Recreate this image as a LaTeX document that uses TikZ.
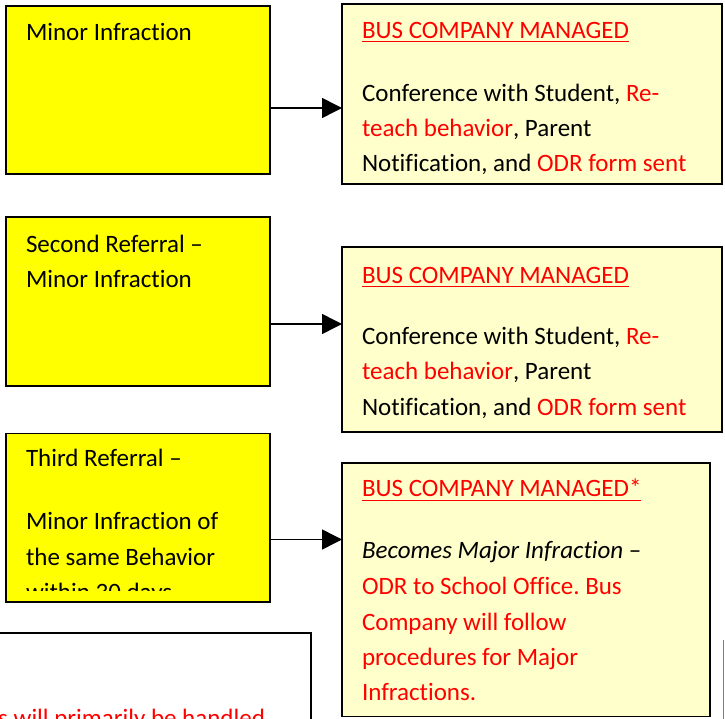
\documentclass[tikz,border=0pt]{standalone}
\usepackage{fontspec}
\setmainfont[Ligatures={NoCommon}]{Carlito}
\usetikzlibrary{arrows.meta}
\definecolor{boxyellow}{HTML}{FFFF00}
\definecolor{paleyellow}{HTML}{FFFFCC}
\definecolor{txtred}{HTML}{FF0000}
\frenchspacing
\begin{document}
\begin{tikzpicture}[x=1pt,y=-1pt,
  ybox/.style={draw=black, line width=1.5pt, fill=boxyellow, anchor=north west, inner sep=0pt, outer sep=0pt},
  pbox/.style={draw=black, line width=1.5pt, fill=paleyellow, anchor=north west, inner sep=0pt, outer sep=0pt},
  wbox/.style={draw=black, line width=1.5pt, fill=white, anchor=north west, inner sep=0pt, outer sep=0pt},
  txt/.style={anchor=base west, inner sep=0pt, outer sep=0pt, font=\fontsize{25}{30}\selectfont\frenchspacing},
  red/.style={text=txtred},
  uline/.style={draw=txtred, line width=1pt},
  arr/.style={line width=1.5pt, -{Triangle[length=20pt,width=20pt]}}]
\useasboundingbox (0,0) rectangle (725,719);
\clip (0,0) rectangle (725,719);
\fill[white] (0,0) rectangle (725,719);

% boxes
\node[ybox, minimum width=264pt, minimum height=168pt] (b1) at (6,6) {};
\node[pbox, minimum width=380pt, minimum height=180pt] (r1) at (342,4) {};
\node[ybox, minimum width=264pt, minimum height=169pt] (b2) at (6,217) {};
\node[pbox, minimum width=380pt, minimum height=185pt] (r2) at (342,247) {};
\node[ybox, minimum width=264pt, minimum height=168.5pt] (b3) at (6,433.5) {};
\node[pbox, minimum width=368pt, minimum height=253.5pt] (r3) at (342,463) {};
\node[wbox, minimum width=321pt, minimum height=200pt] (bl) at (-10,633) {};
\draw[gray, line width=1pt] (723,640) -- (723,730);

% arrows
\coordinate (y1) at (0,108);
\coordinate (y2) at (0,324);
\coordinate (y3) at (0,539.5);
\draw[arr] (b1.east |- y1) -- (r1.west |- y1);
\draw[arr] (b2.east |- y2) -- (r2.west |- y2);
\draw[arr] (b3.east |- y3) -- (r3.west |- y3);

% box 1
\node[txt] (t1) at (26,40.7) {Minor Infraction};

% right box 1
\node[txt, red] (h1) at (362,38.3) {BUS COMPANY MANAGED};
\draw[uline] ([yshift=-3.5pt]h1.base west) -- ([yshift=-3.5pt]h1.base east);
\node[txt] (r1a) at (362,101.7) {Conference with Student, \textcolor{txtred}{Re-}};
\node[txt] (r1b) at (362,136.8) {\textcolor{txtred}{teach behavior}, Parent};
\node[txt] (r1c) at (362,171.8) {Notification, and \textcolor{txtred}{ODR form sent}};

% box 2
\node[txt] (t2a) at (26,252.3) {Second Referral \textendash};
\node[txt] (t2b) at (26,287.3) {Minor Infraction};

% right box 2
\node[txt, red] (h2) at (362,283.3) {BUS COMPANY MANAGED};
\draw[uline] ([yshift=-3.5pt]h2.base west) -- ([yshift=-3.5pt]h2.base east);
\node[txt] (r2a) at (362,344.3) {Conference with Student, \textcolor{txtred}{Re-}};
\node[txt] (r2b) at (362,379.5) {\textcolor{txtred}{teach behavior}, Parent};
\node[txt] (r2c) at (362,415) {Notification, and \textcolor{txtred}{ODR form sent}};

% box 3 (text clipped)
\begin{scope}
\clip (6,434) rectangle (270,590);
\node[txt] (t3a) at (26,466.7) {Third Referral \textendash};
\node[txt] (t3b) at (26,529.3) {Minor Infraction of};
\node[txt] (t3c) at (26,565) {the same Behavior};
\node[txt] (t3d) at (26,600.7) {within 30 days};
\end{scope}

% right box 3
\node[txt, red] (h3) at (362,496.7) {BUS COMPANY MANAGED*};
\draw[uline] ([yshift=-3.5pt]h3.base west) -- ([yshift=-3.5pt]h3.base east);
\node[txt] (r3a) at (362,558.3) {\textit{Becomes Major Infraction} \textendash};
\node[txt, red] (r3b) at (362,594) {ODR to School Office. Bus};
\node[txt, red] (r3c) at (362,630) {Company will follow};
\node[txt, red] (r3d) at (362,665.3) {procedures for Major};
\node[txt, red] (r3e) at (362,700.7) {Infractions.};

% bottom-left box text
\node[txt, red, anchor=base east] (bt) at (265,726) {ns will primarily be handled};
\end{tikzpicture}
\end{document}
